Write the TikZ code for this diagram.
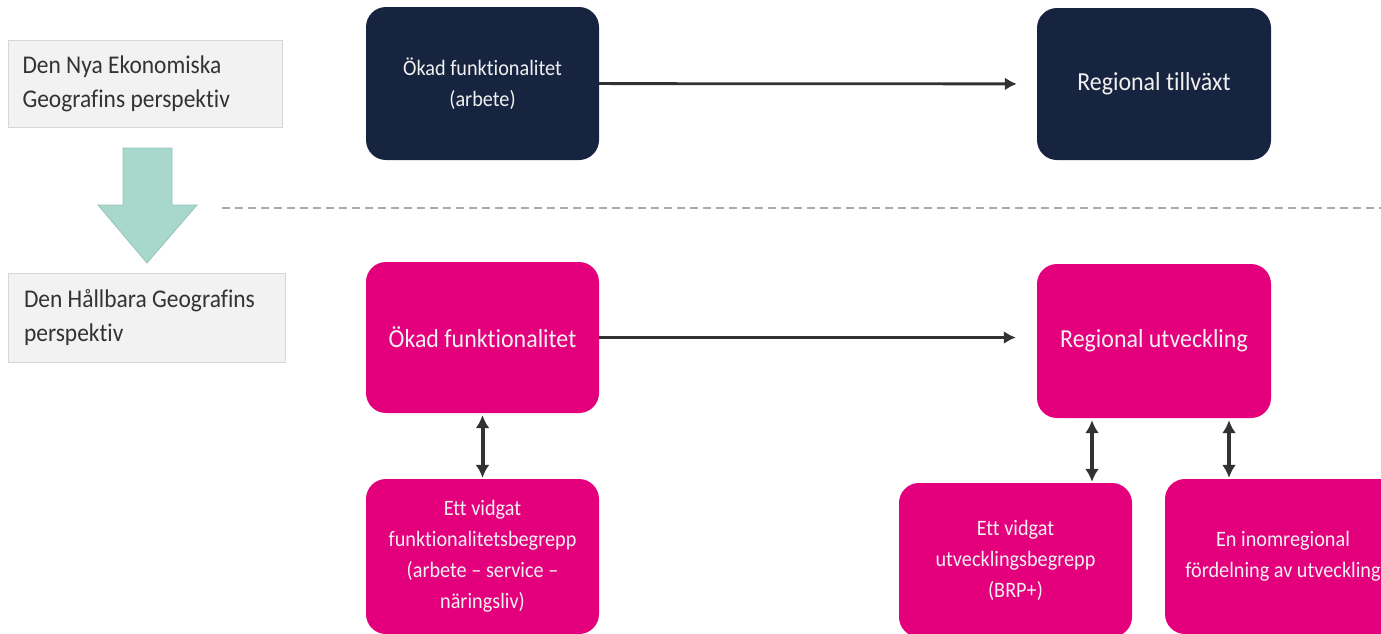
\documentclass[tikz,border=0pt]{standalone}
\usepackage{fontspec}
\setmainfont{Carlito}[FakeStretch=0.92, Ligatures={NoCommon}]
\usetikzlibrary{arrows.meta}
\definecolor{navy}{RGB}{23,36,64}
\definecolor{cerise}{RGB}{228,0,125}
\definecolor{panel}{RGB}{242,242,242}
\definecolor{panelline}{RGB}{214,214,214}
\definecolor{mint}{RGB}{168,216,204}
\definecolor{mintline}{RGB}{150,196,186}
\definecolor{arrowgrey}{RGB}{50,50,48}
\definecolor{dashgrey}{RGB}{170,170,170}

\begin{document}
\begin{tikzpicture}[x=1pt, y=-1pt,
    box/.style = {rectangle, rounded corners=20pt, minimum width=233pt, minimum height=153pt,
                  align=flush center, inner sep=0pt, text=white!94!black},
    small/.style = {font=\fontsize{22pt}{31pt}\selectfont},
    big/.style = {font=\fontsize{26pt}{34pt}\selectfont},
    darkbox/.style = {box, fill=navy},
    pinkbox/.style = {box, fill=cerise},
    viewbox/.style = {rectangle, fill=panel, draw=panelline, line width=0.8pt, minimum width=274pt,
                      text width=245pt, inner xsep=14.5pt, align=flush left, text=black!80,
                      font=\fontsize{25.5pt}{34pt}\selectfont},
    flow/.style = {-{Latex[length=12pt, width=13pt]}, line width=2.8pt, draw=arrowgrey},
    link/.style = {{Latex[length=13pt, width=14pt]}-{Latex[length=13pt, width=14pt]}, line width=4pt,
                   draw=arrowgrey, shorten <=2pt, shorten >=1pt}]
    \useasboundingbox (0,0) rectangle (1381,633);
    \clip (0,0) rectangle (1381,633);

    % perspectives on the left
    \node [viewbox, minimum height=87pt] (nyaeko) at (145,83.5) {Den Nya Ekonomiska \\ Geografins perspektiv};
    \node [viewbox, minimum height=89pt, minimum width=277pt] (hallbar) at (146.5,317.5) {Den Hållbara Geografins \\ perspektiv};
    \fill [mint, draw=mintline, line width=0.8pt] (123,148) -- (172,148) -- (172,205) -- (197,205)
        -- (147,263) -- (98,205) -- (123,205) -- cycle;

    % upper row
    \node [darkbox, small] (okad) at (482.5,83.5) {Ökad funktionalitet \\ (arbete)};
    \node [darkbox, big, minimum width=234pt, minimum height=152pt] (tillvaxt) at (1154,84) {Regional tillväxt};

    \coordinate (dashstart) at (222,208);
    \coordinate (dashend) at (1381,208);
    \draw [dashgrey, line width=2pt, dash pattern=on 8pt off 5pt] (dashstart) -- (dashend);

    % lower row
    \node [pinkbox, big, minimum height=151pt] (okadfunk) at (482.5,337.5) {Ökad funktionalitet};
    \node [pinkbox, big, minimum width=234pt, minimum height=154pt] (utveckling) at (1154,341) {Regional utveckling};
    \node [pinkbox, small, minimum height=155pt] (funkbegrepp) at (482.5,556.5)
        {Ett vidgat \\ funktionalitetsbegrepp \\ (arbete – service – \\ näringsliv)};
    \node [pinkbox, small, minimum height=154pt] (utvbegrepp) at (1015.5,560)
        {Ett vidgat \\ utvecklingsbegrepp \\ (BRP+)};
    \node [pinkbox, small, minimum width=236pt, minimum height=155pt] (fordelning) at (1283,556.5)
        {En inomregional \\ fördelning av utveckling};
    \coordinate (leftlink) at (1092,0);
    \coordinate (rightlink) at (1229,0);

    \draw [flow, shorten >=20pt] (okad) -- (tillvaxt);
    \draw [flow, shorten >=21pt] (okadfunk) -- (okadfunk -| utveckling.west);
    \draw [link] (okadfunk) -- (funkbegrepp);
    \draw [link] (utveckling.south -| leftlink) -- (utvbegrepp.north -| leftlink);
    \draw [link] (utveckling.south -| rightlink) -- (fordelning.north -| rightlink);
\end{tikzpicture}
\end{document}
